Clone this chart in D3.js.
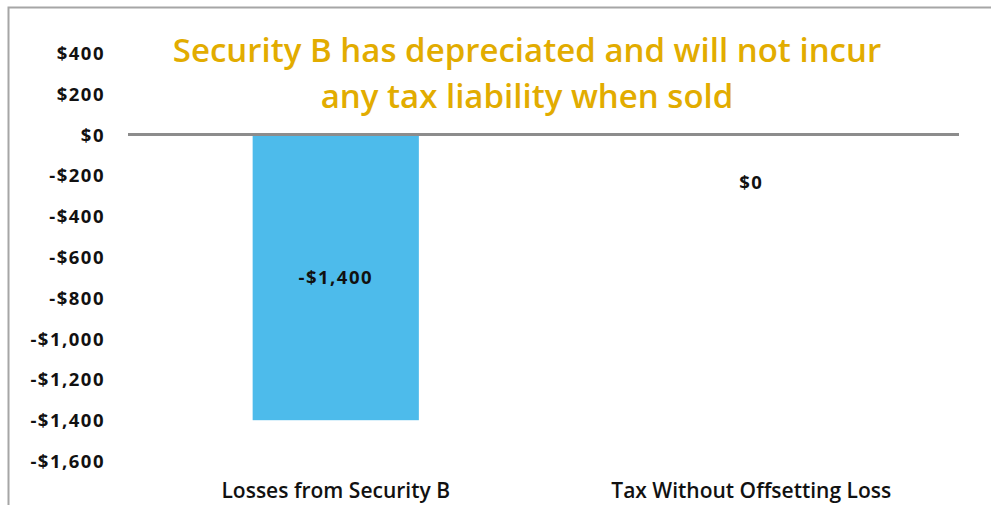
<!DOCTYPE html>
<html>
<head>
<meta charset="utf-8">
<script src="https://cdn.jsdelivr.net/npm/d3@7"></script>
<style>
  html, body { margin: 0; padding: 0; background: #fff; }
  svg { display: block; }
  .tick text, .val { font-family: "Open Sans", sans-serif; font-weight: 700; fill: #111; letter-spacing: 1.5px; }
  .cat { font-family: "Open Sans", sans-serif; font-weight: 600; fill: #111; }
  .title { font-family: "Open Sans", sans-serif; font-weight: 600; fill: #E2AC00; }
</style>
</head>
<body>
<svg id="chart" width="991" height="505"></svg>
<script>
// Chart data
const categories = ["Losses from Security B", "Tax Without Offsetting Loss"];
const values = [-1400, 0];
const valueLabels = ["-$1,400", "$0"];
const yTicks = [400, 200, 0, -200, -400, -600, -800, -1000, -1200, -1400, -1600];
const titleLines = ["Security B has depreciated and will not incur", "any tax liability when sold"];

const svg = d3.select("#chart");
const W = 991, H = 505;
const plot = { left: 128, right: 959, top: 53, bottom: 461 };

// Outer frame (cropped at right and bottom)
svg.append("path")
  .attr("d", `M8.5,${H} V7.5 H${W}`)
  .attr("fill", "none")
  .attr("stroke", "#a6a6a6")
  .attr("stroke-width", 2);

const x = d3.scaleBand()
  .domain(categories)
  .range([plot.left, plot.right])
  .paddingInner(0.6)
  .paddingOuter(0.3);

const y = d3.scaleLinear()
  .domain([400, -1600])
  .range([plot.top, plot.bottom]);

const fmt = v => (v < 0 ? "-$" : "$") + d3.format(",")(Math.abs(v));

// Y axis labels (no axis line or tick marks)
const yAxis = d3.axisLeft(y).tickValues(yTicks).tickFormat(fmt).tickSize(0).tickPadding(0);
const yg = svg.append("g").attr("transform", "translate(105,0)").call(yAxis);
yg.select(".domain").remove();
yg.selectAll(".tick text").attr("font-size", 18.5).attr("dy", "0.35em");

// Bars
svg.selectAll("rect.bar")
  .data(values)
  .join("rect")
  .attr("class", "bar")
  .attr("x", (d, i) => x(categories[i]))
  .attr("width", x.bandwidth())
  .attr("y", d => y(Math.max(0, d)))
  .attr("height", d => Math.abs(y(d) - y(0)))
  .attr("fill", "#4DBBEB");

// Zero line
svg.append("line")
  .attr("x1", plot.left).attr("x2", plot.right)
  .attr("y1", y(0)).attr("y2", y(0))
  .attr("stroke", "#8c8c8c")
  .attr("stroke-width", 3);

// Value labels
svg.selectAll("text.val")
  .data(values)
  .join("text")
  .attr("class", "val")
  .attr("x", (d, i) => x(categories[i]) + x.bandwidth() / 2)
  .attr("y", d => d < 0 ? (y(0) + y(d)) / 2 : y(0) + 48)
  .attr("dy", "0.35em")
  .attr("text-anchor", "middle")
  .attr("font-size", 18.5)
  .text((d, i) => valueLabels[i]);

// Category labels
svg.selectAll("text.cat")
  .data(categories)
  .join("text")
  .attr("class", "cat")
  .attr("x", d => x(d) + x.bandwidth() / 2)
  .attr("y", 491)
  .attr("dy", "0.35em")
  .attr("text-anchor", "middle")
  .attr("font-size", 21)
  .text(d => d);

// Title
svg.selectAll("text.title")
  .data(titleLines)
  .join("text")
  .attr("class", "title")
  .attr("x", 527)
  .attr("y", (d, i) => 50 + i * 46)
  .attr("dy", "0.35em")
  .attr("text-anchor", "middle")
  .attr("font-size", 33)
  .text(d => d);
</script>
</body>
</html>
